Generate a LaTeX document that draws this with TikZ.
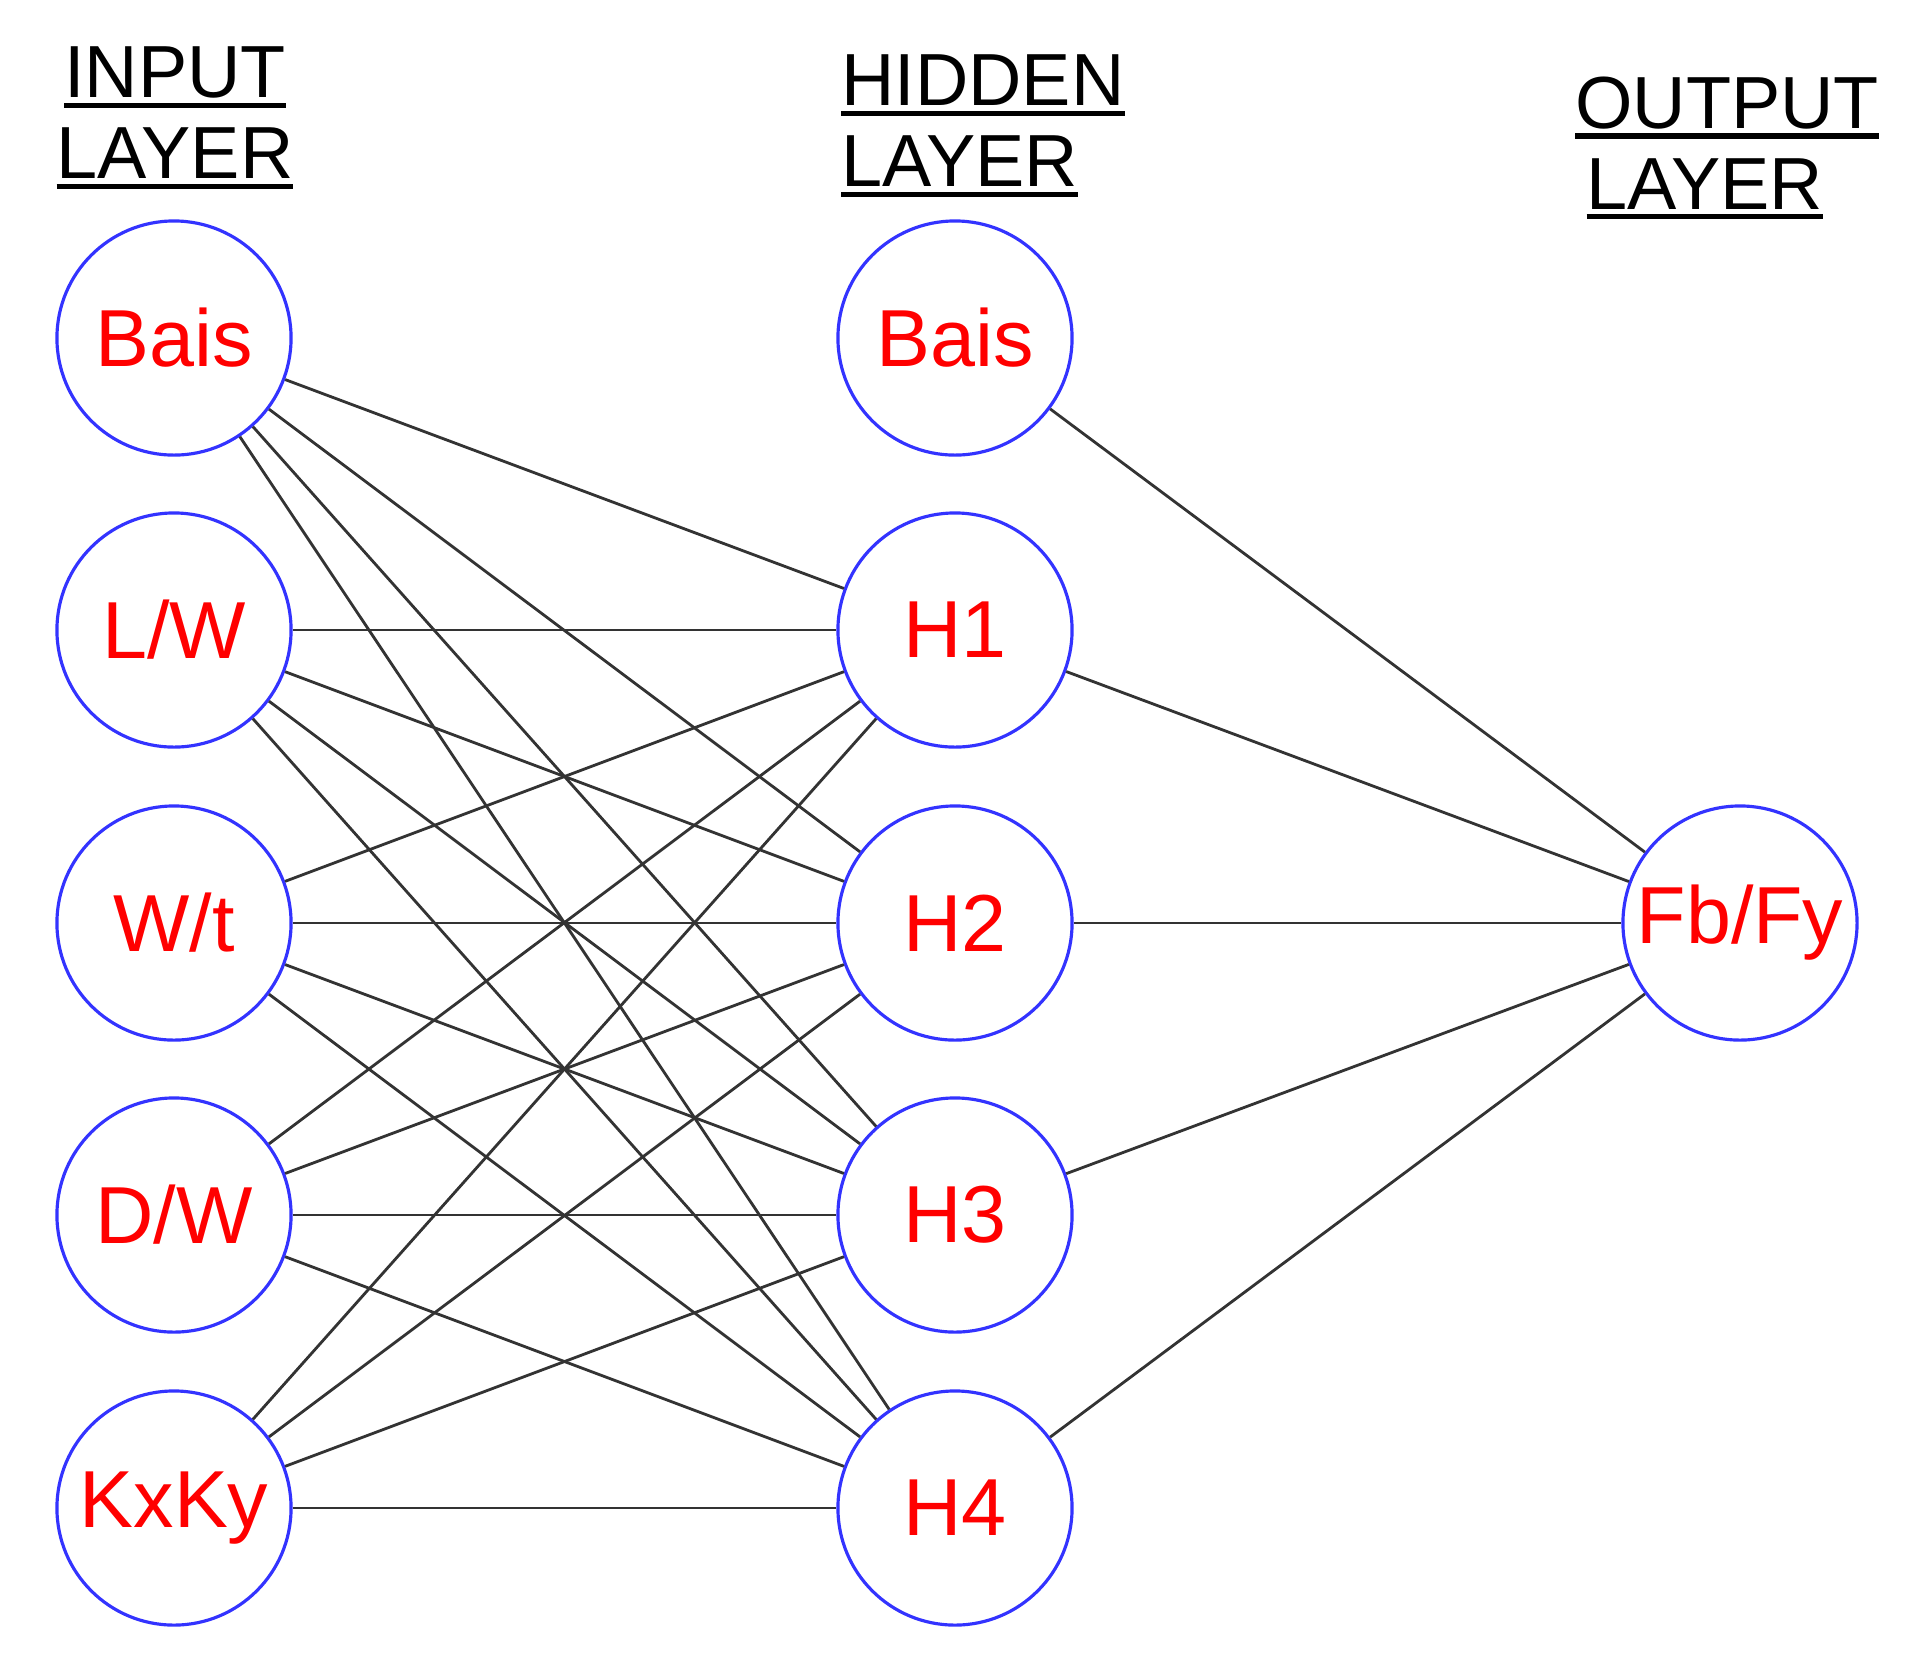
\documentclass[tikz,border=0pt]{standalone}
\usepackage{fontspec}
\setmainfont{Liberation Sans}
\newcommand{\ul}[1]{\setbox0\hbox{#1}\rlap{\raisebox{-0.14em}{\rule{\wd0}{0.07em}}}\box0}
\begin{document}
\begin{tikzpicture}[x=0.01cm,y=-0.01cm,
  neuron/.style={circle,draw=blue!80,line width=0.9pt,minimum size=2.34cm,inner sep=0pt,text=red,font=\fontsize{23}{28}\selectfont},
  hdr/.style={font=\fontsize{21}{26}\selectfont,align=center,inner sep=0pt},
  link/.style={draw=black!80,line width=0.8pt}]
\useasboundingbox (0,0) rectangle (1915,1656);
\node[hdr] (hin) at (175,118) {\ul{INPUT}\\[-3pt]\ul{LAYER}};
\node[hdr,align=left] (hhid) at (983,126) {\ul{HIDDEN}\\[-3pt]\ul{LAYER}};
\node[hdr] (hout) at (1727,148) {\ul{OUTPUT}\\[-3pt]\hspace*{-0.6em}\ul{LAYER}};
\node[neuron] (i0) at (174,338) {Bais};
\node[neuron] (i1) at (174,630) {L/W};
\node[neuron] (i2) at (174,923) {W/t};
\node[neuron] (i3) at (174,1215) {D/W};
\node[neuron] (i4) at (174,1508) {KxKy};
\node[neuron] (h0) at (955,338) {Bais};
\node[neuron] (h1) at (955,630) {H1};
\node[neuron] (h2) at (955,923) {H2};
\node[neuron] (h3) at (955,1215) {H3};
\node[neuron] (h4) at (955,1508) {H4};
\node[neuron] (o) at (1740,923) {Fb/Fy};
\foreach \i in {0,...,4}{\foreach \h in {1,...,4}{\draw[link] (i\i) -- (h\h);}}
\foreach \h in {0,...,4}{\draw[link] (h\h) -- (o);}
\end{tikzpicture}
\end{document}
